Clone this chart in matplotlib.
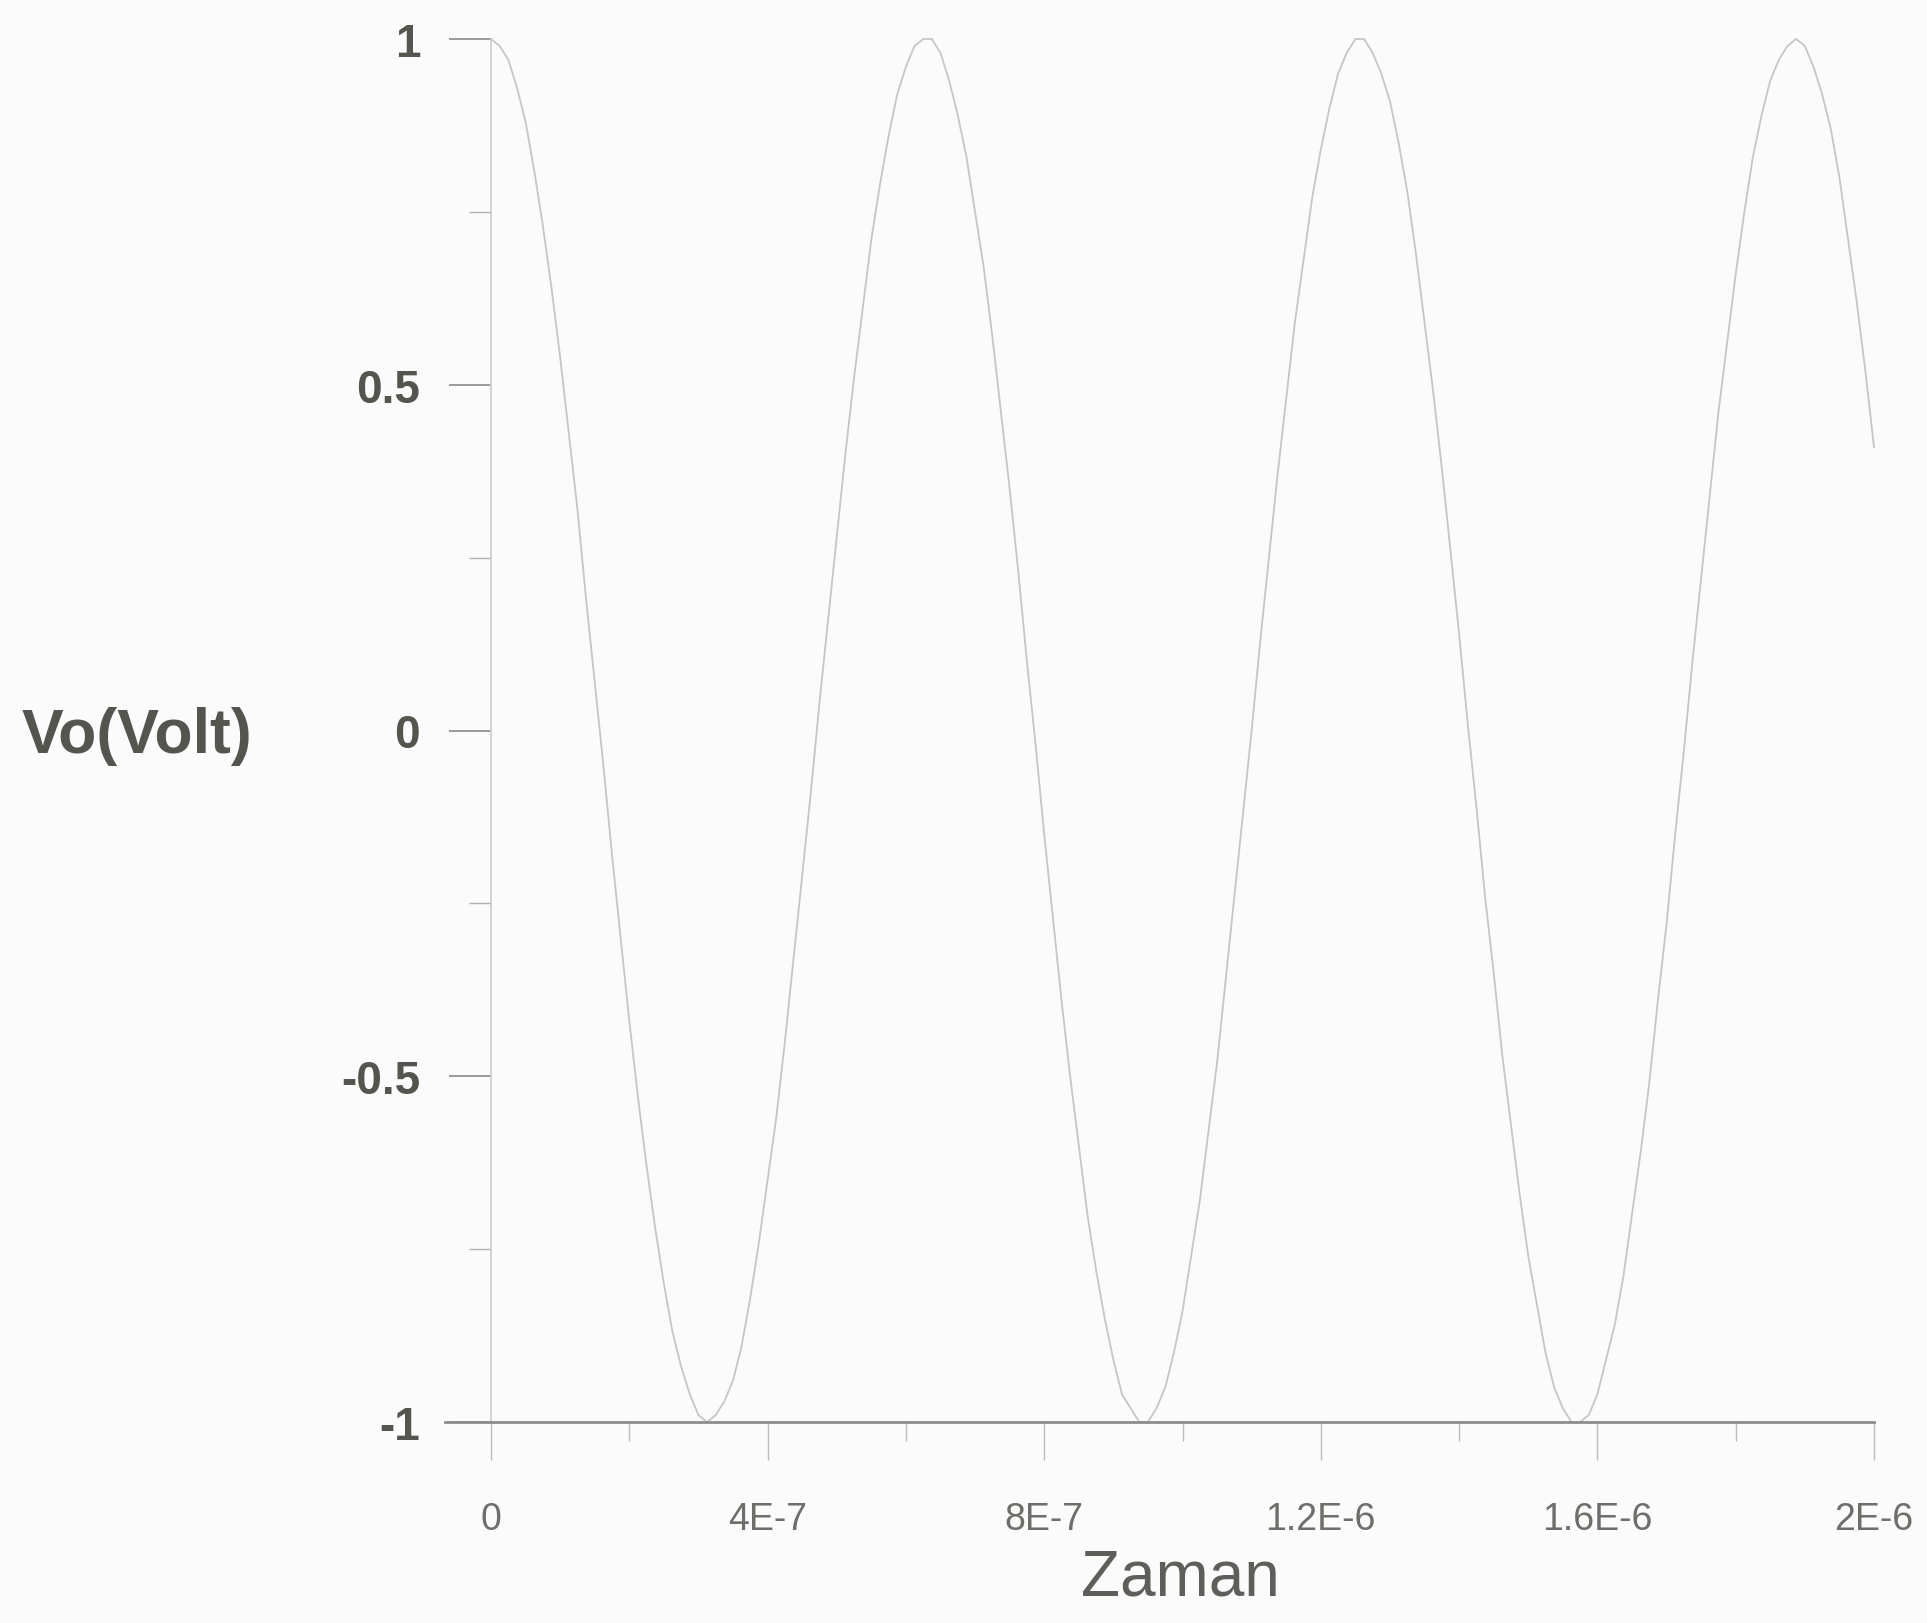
import matplotlib
matplotlib.use("Agg")
import matplotlib.pyplot as plt
from matplotlib.ticker import FixedLocator

# Time samples (s) and output voltage
time_s = [i * 1.25e-8 for i in range(161)]
vo_volt = [
    1.00, 0.99, 0.97, 0.93, 0.88, 0.81, 0.73, 0.64, 0.54, 0.43,
    0.32, 0.19, 0.07, -0.05, -0.18, -0.30, -0.42, -0.53, -0.63, -0.72,
    -0.80, -0.87, -0.92, -0.96, -0.99, -1.00, -0.99, -0.97, -0.94, -0.89,
    -0.82, -0.74, -0.65, -0.56, -0.45, -0.33, -0.21, -0.09, 0.04, 0.16,
    0.28, 0.40, 0.51, 0.61, 0.71, 0.79, 0.86, 0.92, 0.96, 0.99,
    1.00, 1.00, 0.98, 0.94, 0.89, 0.83, 0.75, 0.67, 0.57, 0.46,
    0.35, 0.23, 0.10, -0.02, -0.15, -0.27, -0.39, -0.50, -0.60, -0.70,
    -0.78, -0.85, -0.91, -0.96, -0.98, -1.00, -1.00, -0.98, -0.95, -0.90,
    -0.84, -0.76, -0.68, -0.58, -0.48, -0.36, -0.24, -0.12, 0.00, 0.13,
    0.25, 0.37, 0.48, 0.59, 0.68, 0.77, 0.84, 0.90, 0.95, 0.98,
    1.00, 1.00, 0.98, 0.95, 0.91, 0.85, 0.78, 0.69, 0.59, 0.49,
    0.38, 0.26, 0.14, 0.01, -0.11, -0.24, -0.35, -0.47, -0.57, -0.67,
    -0.76, -0.83, -0.90, -0.95, -0.98, -1.00, -1.00, -0.99, -0.96, -0.91,
    -0.86, -0.79, -0.70, -0.61, -0.51, -0.39, -0.28, -0.15, -0.03, 0.10,
    0.22, 0.34, 0.46, 0.56, 0.66, 0.75, 0.83, 0.89, 0.94, 0.97,
    0.99, 1.00, 0.99, 0.96, 0.92, 0.87, 0.80, 0.71, 0.62, 0.52,
    0.41,
]

x_major = [0, 4e-7, 8e-7, 1.2e-6, 1.6e-6, 2e-6]
x_major_labels = ["0", "4E-7", "8E-7", "1.2E-6", "1.6E-6", "2E-6"]
x_minor = [2e-7, 6e-7, 1e-6, 1.4e-6, 1.8e-6]
y_major = [-1, -0.5, 0, 0.5, 1]
y_major_labels = ["-1", "-0.5", "0", "0.5", "1"]
y_minor = [-0.75, -0.25, 0.25, 0.75]

W, H = 1927, 1624
fig = plt.figure(figsize=(W / 100, H / 100), dpi=100)
fig.patch.set_facecolor("#fbfbfb")

left, right = 491 / W, 1874 / W
bottom, top = (H - 1423) / H, (H - 40) / H
ax = fig.add_axes([left, bottom, right - left, top - bottom])
ax.set_facecolor("none")

ax.plot(time_s, vo_volt, color="#c6c6c6", lw=1.3, clip_on=False, zorder=3)

ax.set_xlim(0, 2e-6)
ax.set_ylim(-1, 1)

for s in ["top", "right", "bottom"]:
    ax.spines[s].set_visible(False)
ax.spines["left"].set_color("#cbcbcb")
ax.spines["left"].set_linewidth(1.2)

ax.axhline(-1, xmin=-0.033, xmax=1.0, color="#8c8c8c", lw=2.0, clip_on=False, zorder=4)

ax.xaxis.set_major_locator(FixedLocator(x_major))
ax.xaxis.set_minor_locator(FixedLocator(x_minor))
ax.set_xticklabels(x_major_labels)
ax.yaxis.set_major_locator(FixedLocator(y_major))
ax.yaxis.set_minor_locator(FixedLocator(y_minor))
ax.set_yticklabels(y_major_labels)

ax.tick_params(axis="x", which="major", length=27, width=1.0, color="#bdbdbd",
               pad=30, labelsize=27, labelcolor="#6e6e6a", direction="out")
ax.tick_params(axis="x", which="minor", length=14, width=1.0, color="#bdbdbd", direction="out")
ax.tick_params(axis="y", which="major", length=30, width=1.2, color="#8a8a8a",
               pad=21, labelsize=33, labelcolor="#55554f", direction="out")
ax.tick_params(axis="y", which="minor", length=16, width=1.0, color="#b0b0b0", direction="out")

for lab in ax.get_xticklabels():
    lab.set_fontfamily("Liberation Sans")
for lab in ax.get_yticklabels():
    lab.set_fontfamily("Liberation Sans")
    lab.set_fontweight("bold")

fig.text(22 / W, 1 - 737 / H, "Vo(Volt)", ha="left", va="center",
         fontsize=45, fontweight="bold", color="#55554f", family="Liberation Sans")
fig.text(1180 / W, 1 - 1579 / H, "Zaman", ha="center", va="center",
         fontsize=46, color="#5e5e5a", family="Liberation Sans")

fig.savefig("out.png", dpi=100, facecolor=fig.get_facecolor())
